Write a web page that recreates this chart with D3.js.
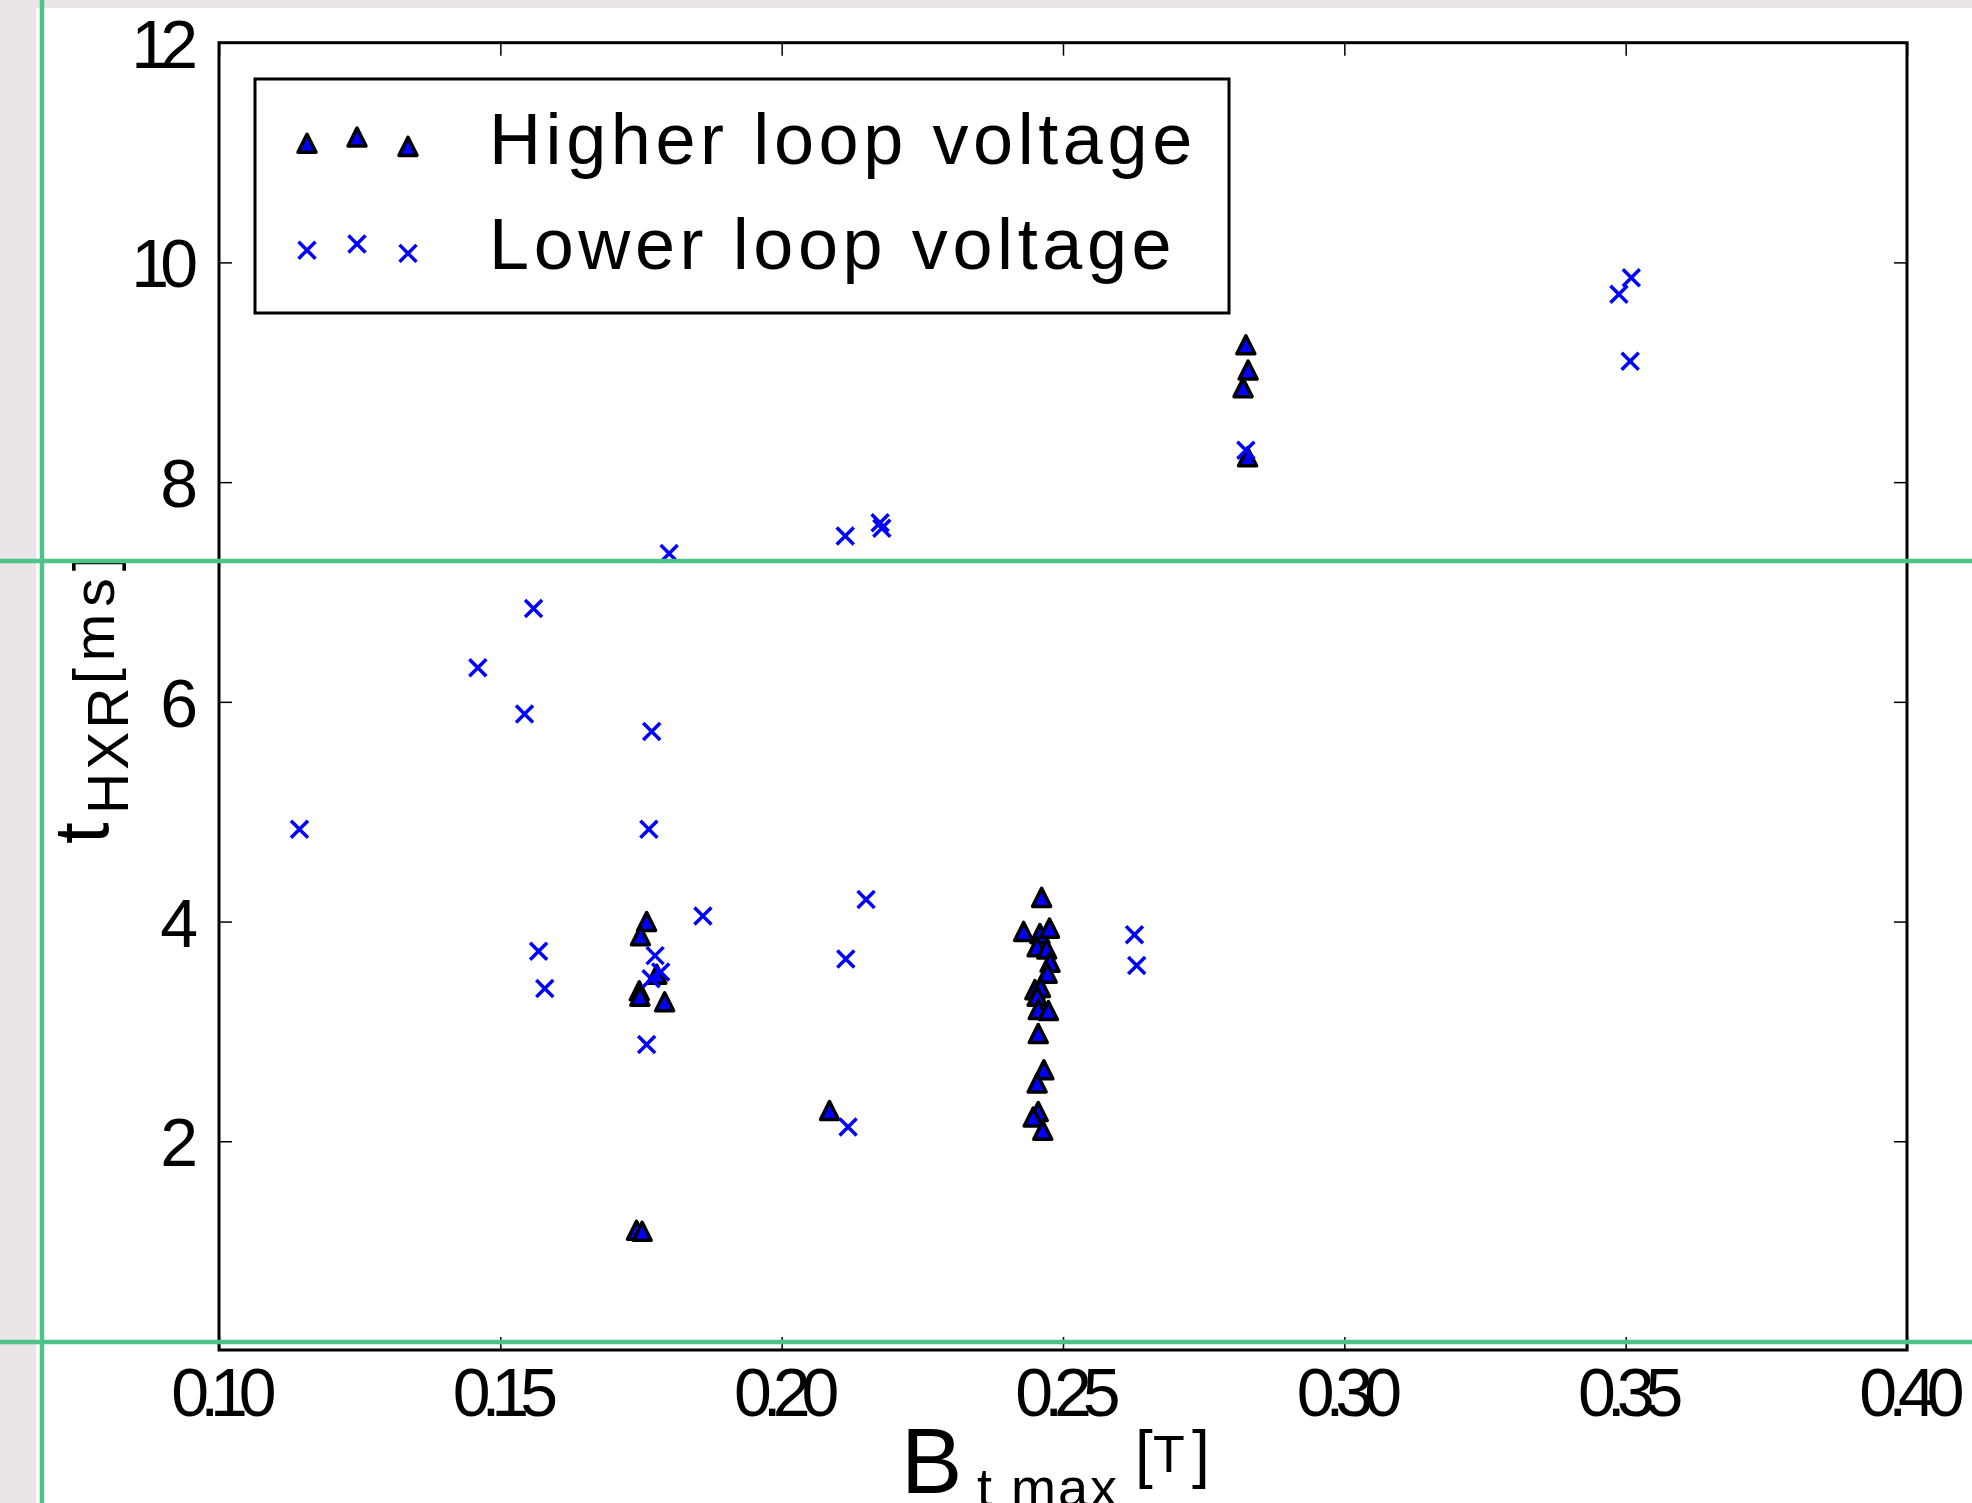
<!DOCTYPE html>
<html>
<head>
<meta charset="utf-8">
<script src="https://cdn.jsdelivr.net/npm/d3@7"></script>
<style>
  body { margin: 0; background: #fff; }
  svg { display: block; font-family: "Liberation Sans", Arial, sans-serif; }
</style>
</head>
<body>
<svg id="chart" width="1972" height="1503"></svg>
<script>
// data
const higherB = [0.1760, 0.1749, 0.1778, 0.1747, 0.1748, 0.1792, 0.1742, 0.1752,
  0.2085,
  0.2462, 0.2430, 0.2459, 0.2476, 0.2454, 0.2471, 0.2477, 0.2472, 0.2450, 0.2460,
  0.2454, 0.2456, 0.2474, 0.2456, 0.2466, 0.2454, 0.2456, 0.2447, 0.2464,
  0.2825, 0.2829, 0.2820, 0.2828];
const higherT = [4.00, 3.87, 3.52, 3.37, 3.32, 3.27, 1.19, 1.18,
  2.28,
  4.22, 3.91, 3.89, 3.94, 3.77, 3.75, 3.63, 3.53, 3.38, 3.40,
  3.32, 3.20, 3.19, 2.98, 2.65, 2.53, 2.27, 2.22, 2.10,
  9.25, 9.02, 8.86, 8.23];

const lowerB = [0.1143, 0.1460, 0.1543, 0.1559, 0.1568, 0.1579, 0.1800, 0.1769,
  0.1764, 0.1775, 0.1785, 0.1768, 0.1760, 0.1860, 0.2150, 0.2114, 0.2118, 0.2113,
  0.2175, 0.2178, 0.2627, 0.2631, 0.2825, 0.3488, 0.3510, 0.3508];
const lowerT = [4.84, 6.31, 5.89, 6.85, 3.73, 3.39, 7.35, 5.73,
  4.84, 3.69, 3.54, 3.48, 2.88, 4.05, 4.20, 3.66, 2.13, 7.51,
  7.63, 7.58, 3.88, 3.60, 8.29, 9.71, 9.86, 9.10];

const xTicks = [0.10, 0.15, 0.20, 0.25, 0.30, 0.35, 0.40];
const xTickLabels = ["0.10", "0.15", "0.20", "0.25", "0.30", "0.35", "0.40"];
const yTicks = [2, 4, 6, 8, 10, 12];
const yTickLabels = ["2", "4", "6", "8", "10", "12"];
const seriesNames = ["Higher loop voltage", "Lower loop voltage"];
const legendOffsets = [0.375, 0.5, 0.3125];

const PLOT = { left: 219, right: 1907, top: 42.7, bottom: 1350 };
const BLUE = "#0000ff";

const svg = d3.select("#chart");

// page backdrop strips
svg.append("rect").attr("x", 0).attr("y", 0).attr("width", 1972).attr("height", 8).attr("fill", "#e9e5e8");
svg.append("rect").attr("x", 0).attr("y", 0).attr("width", 36).attr("height", 1503).attr("fill", "#e9e5e8");

const X = d3.scaleLinear().domain([0.10, 0.40]).range([PLOT.left, PLOT.right]);
const Y = d3.scaleLinear().domain([0.1, 12]).range([PLOT.bottom, PLOT.top]);

const triPath = "M0,-9L9,9L-9,9Z";
const crossPath = "M-8.5,-8.5L8.5,8.5M-8.5,8.5L8.5,-8.5";

// axes with inward ticks
svg.append("g")
  .attr("transform", "translate(0," + PLOT.bottom + ")")
  .call(d3.axisBottom(X).tickValues(xTicks).tickFormat((d, i) => xTickLabels[i])
    .tickSize(-13).tickSizeOuter(0).tickPadding(18));
svg.append("g")
  .attr("transform", "translate(0," + PLOT.top + ")")
  .call(d3.axisTop(X).tickValues(xTicks).tickFormat("").tickSize(-13).tickSizeOuter(0));
const leftAxis = svg.append("g")
  .attr("transform", "translate(" + PLOT.left + ",0)")
  .call(d3.axisLeft(Y).tickValues(yTicks).tickFormat((d, i) => yTickLabels[i])
    .tickSize(-13).tickSizeOuter(0).tickPadding(30));
svg.append("g")
  .attr("transform", "translate(" + PLOT.right + ",0)")
  .call(d3.axisRight(Y).tickValues(yTicks).tickFormat("").tickSize(-13).tickSizeOuter(0));

svg.selectAll(".domain").remove();
svg.selectAll(".tick line").attr("stroke", "#000").attr("stroke-width", 1.5);
svg.selectAll(".tick text")
  .attr("fill", "#000")
  .attr("font-family", "Liberation Sans, Arial, sans-serif")
  .attr("font-size", 68)
  .attr("letter-spacing", "-9px");
leftAxis.selectAll(".tick text").attr("dy", "0.36em");

// frame
svg.append("rect")
  .attr("x", PLOT.left).attr("y", PLOT.top)
  .attr("width", PLOT.right - PLOT.left).attr("height", PLOT.bottom - PLOT.top)
  .attr("fill", "none").attr("stroke", "#000").attr("stroke-width", 3);

// points
svg.append("g").selectAll("path")
  .data(higherB)
  .enter()
  .append("path")
  .attr("d", triPath)
  .attr("transform", (d, i) => "translate(" + X(d) + "," + Y(higherT[i]) + ")")
  .attr("fill", BLUE).attr("stroke", "#000").attr("stroke-width", 3.5)
  .attr("stroke-linejoin", "round");

svg.append("g").selectAll("path")
  .data(lowerB)
  .enter()
  .append("path")
  .attr("d", crossPath)
  .attr("transform", (d, i) => "translate(" + X(d) + "," + Y(lowerT[i]) + ")")
  .attr("fill", "none").attr("stroke", BLUE).attr("stroke-width", 3.5);

// legend
const legend = svg.append("g");
legend.append("rect")
  .attr("x", 255).attr("y", 79).attr("width", 974).attr("height", 234)
  .attr("fill", "#fff").attr("stroke", "#000").attr("stroke-width", 3);

const legendRows = [
  { name: seriesNames[0], bottom: 162, path: triPath, fill: BLUE, stroke: "#000", base: 164 },
  { name: seriesNames[1], bottom: 269, path: crossPath, fill: "none", stroke: BLUE, base: 269 }
];
const legendX = [307, 357, 408];
legendRows.forEach((row) => {
  legend.append("g").selectAll("path")
    .data(legendOffsets)
    .enter()
    .append("path")
    .attr("d", row.path)
    .attr("transform", (d, i) => "translate(" + legendX[i] + "," + (row.bottom - d * 50) + ")")
    .attr("fill", row.fill).attr("stroke", row.stroke).attr("stroke-width", 3.5)
    .attr("stroke-linejoin", "round");
  legend.append("text")
    .attr("x", 489).attr("y", row.base)
    .attr("font-size", 72)
    .attr("letter-spacing", "4.6px")
    .text(row.name);
});

// x label
const xl = svg.append("g");
xl.append("text").attr("x", 901).attr("y", 1493).attr("font-size", 92).text("B");
xl.append("text").attr("x", 977).attr("y", 1506).attr("font-size", 54)
  .attr("letter-spacing", "2px").text("t max");
xl.append("text").attr("x", 1135).attr("y", 1476).attr("font-size", 64).text("[");
xl.append("text").attr("x", 1153).attr("y", 1472).attr("font-size", 52).text("T");
xl.append("text").attr("x", 1192).attr("y", 1476).attr("font-size", 64).text("]");

// y label
const yl = svg.append("g").attr("transform", "translate(108,844) rotate(-90)");
yl.append("text").attr("x", 0).attr("y", 0).attr("font-size", 78).text("t");
yl.append("text").attr("x", 30).attr("y", 20).attr("font-size", 57)
  .attr("letter-spacing", "3px").text("HXR");
yl.append("text").attr("x", 160).attr("y", 6).attr("font-size", 57)
  .attr("letter-spacing", "7px").text("[ms]");

// green guide lines on top
const guide = svg.append("g").attr("stroke", "#4fc288").attr("stroke-width", 4.5);
guide.append("line").attr("x1", 42).attr("x2", 42).attr("y1", 0).attr("y2", 1503);
guide.append("line").attr("x1", 0).attr("x2", 1972).attr("y1", 561).attr("y2", 561);
guide.append("line").attr("x1", 0).attr("x2", 1972).attr("y1", 1342).attr("y2", 1342);
</script>
</body>
</html>
